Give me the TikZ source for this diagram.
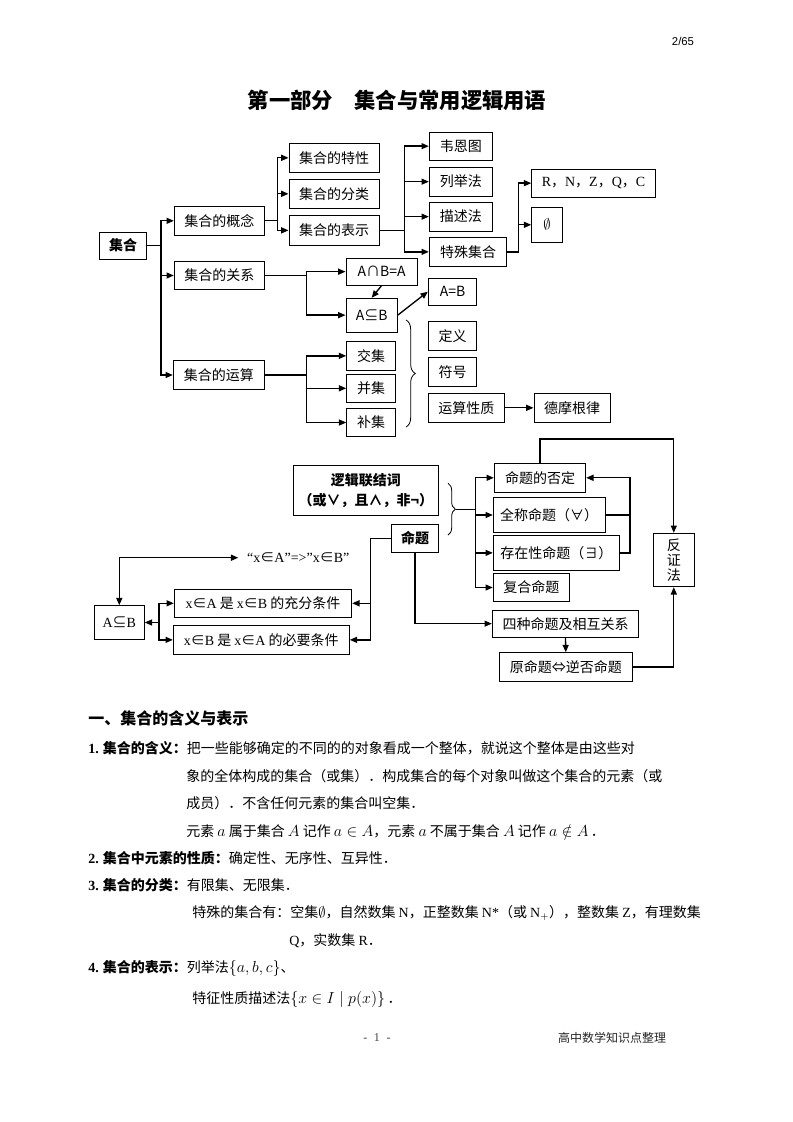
\documentclass[tikz,border=0pt]{standalone}
\usepackage{amssymb}
\usepackage{fontspec}
\setmainfont{Noto Sans CJK SC}
\newfontfamily\lat{Liberation Serif}
\newfontfamily\las{Liberation Sans}
\usetikzlibrary{arrows.meta,decorations.pathreplacing}
\tikzset{
  bx/.style={draw, line width=0.7pt, inner sep=0pt, align=center},
  ln/.style={line width=1pt},
  arr/.style={line width=1pt, -{Triangle[length=5.5pt,width=4.5pt]}},
  darr/.style={line width=1pt, {Triangle[length=5.5pt,width=4.5pt]}-{Triangle[length=5.5pt,width=4.5pt]}},
  brc/.style={decorate, line width=0.6pt},
  txt/.style={anchor=base west, inner sep=0pt}
}
\newcommand\Bx[6]{\node[bx, minimum width={(#4-#2)*0.75pt}, minimum height={(#5-#3)*0.75pt}] (#1) at ({(#2+#4)/2},{(#3+#5)/2}) {#6};}
\newcommand\TL[4]{\node[txt] (#1) at (#2,#3) {#4};}
\newcommand\MM[1]{{\fontsize{12}{14}\selectfont$#1$}}
\begin{document}
\begin{tikzpicture}[x=0.75pt,y=-0.75pt,font=\fontsize{10.5}{12.6}\selectfont]
\useasboundingbox (0,0) rectangle (793,1122);
\fill[white] (0,0) rectangle (793,1122);

% header and title
\node[inner sep=0pt] (hdr) at (683,41) {\las\fontsize{8.5}{10}\selectfont 2/65};
\node[anchor=base, inner sep=0pt] (title) at (397,108) {\fontsize{16}{18}\selectfont\bfseries 第一部分　集合与常用逻辑用语};

% ---------- top diagram ----------
\Bx{set}{99.5}{232}{146.5}{259}{\bfseries 集合}
\Bx{c1}{174.3}{206.3}{264.3}{235.3}{集合的概念}
\Bx{c2}{174.3}{261.7}{264.3}{289.3}{集合的关系}
\Bx{c3}{173.3}{360.7}{264.3}{389.3}{集合的运算}
\Bx{d1}{289}{143.3}{379.3}{172.3}{集合的特性}
\Bx{d2}{289}{179.3}{379.3}{208.3}{集合的分类}
\Bx{d3}{289}{215.7}{379.3}{245}{集合的表示}
\Bx{e1}{429.3}{132.3}{492.3}{160}{韦恩图}
\Bx{e2}{429.3}{167.3}{492.3}{196}{列举法}
\Bx{e3}{429.3}{202.3}{492.3}{231}{描述法}
\Bx{e4}{429.3}{237.7}{506.7}{266}{特殊集合}
\Bx{f1}{531.7}{169.3}{655.3}{197}{{\lat R}，{\lat N}，{\lat Z}，{\lat Q}，{\lat C}}
\Bx{f2}{531.7}{207.3}{562.3}{242.3}{$\emptyset$}
\Bx{g1}{346}{258.3}{417.3}{285}{A∩B=A}
\Bx{g2}{346}{298.3}{397.3}{332}{A⊆B}
\Bx{h}{428.3}{278.3}{476.7}{305}{A=B}
\Bx{j1}{346.7}{341.7}{395.7}{370}{交集}
\Bx{j2}{346.7}{374.3}{395.7}{402.3}{并集}
\Bx{j3}{346.7}{408.3}{395.7}{436.7}{补集}
\Bx{k1}{428.3}{321.7}{476.7}{350}{定义}
\Bx{k2}{428.3}{357.3}{476.7}{386}{符号}
\Bx{k3}{428.3}{393.3}{504.3}{422.3}{运算性质}
\Bx{k4}{534}{393.3}{610}{422.3}{德摩根律}

\foreach \t in {c1,c2,c3} \draw[arr] (set.east) -- ++(14,0) |- (\t.west);
\foreach \t in {d1,d2,d3} \draw[arr] (c1.east) -- ++(12.4,0) |- (\t.west);
\foreach \t in {e1,e2,e3,e4} \draw[arr] (d3.east) -- ++(24.7,0) |- (\t.west);
\foreach \t in {f1,f2} \draw[arr] (e4.east) -- ++(11.6,0) |- (\t.west);
\foreach \t in {g1,g2} \draw[arr] (c2.east) -- ++(41.4,0) |- (\t.west);
\foreach \t in {j1,j2,j3} \draw[arr] (c3.east) -- ++(41.4,0) |- (\t.west);
\draw[arr] (g1.south) -- (g2.north);
\draw[arr] (g2.east) -- (h.west);
\draw[arr] (k3.east) -- (k4.west);
\coordinate (b1a) at (406,320);
\coordinate (b1b) at (406,427);
\draw[brc, decoration={brace, amplitude=7pt}] (b1a) -- (b1b);

% ---------- lower diagram ----------
\node[bx, minimum width={145*0.75pt}, minimum height={50.3*0.75pt}, font={\fontsize{10.5}{15}\selectfont\bfseries}] (L) at (365.8,490.8) {逻辑联结词\\（或∨，且∧，非¬）};
\Bx{P}{391.7}{524.3}{438.3}{552.3}{\bfseries 命题}
\Bx{m1}{494.3}{463.3}{585.7}{492.3}{命题的否定}
\Bx{m2}{493.3}{497.7}{605}{532.3}{全称命题（∀）}
\Bx{m3}{493.3}{535.7}{619.3}{570}{存在性命题（∃）}
\Bx{m4}{493.3}{573.3}{569.3}{601.7}{复合命题}
\Bx{n}{492.3}{610}{638.7}{637.3}{四种命题及相互关系}
\Bx{o}{499.3}{652.7}{632.3}{681}{原命题⇔逆否命题}
\node[bx, minimum width={41*0.75pt}, minimum height={53.4*0.75pt}, font={\fontsize{10.5}{11.3}\selectfont}] (r) at (673.8,560) {反\\证\\法};
\Bx{q1}{174.3}{589.3}{351.7}{617.3}{{\lat x}∈{\lat A} 是 {\lat x}∈{\lat B} 的充分条件}
\Bx{q2}{173.3}{625.7}{349.3}{654}{{\lat x}∈{\lat B} 是 {\lat x}∈{\lat A} 的必要条件}
\Bx{s}{94.3}{605.7}{144.3}{639.3}{{\lat A}⊆{\lat B}}
\node[anchor=west, inner xsep=6.5pt, inner ysep=0pt] (t) at (238.3,557.7) {{\lat “x}∈{\lat A”=>”x}∈{\lat B”}};

\coordinate (b2a) at (448,483.3);
\coordinate (b2b) at (448,535);
\draw[brc, decoration={brace, amplitude=5.5pt}] (b2a) -- (b2b);
\coordinate (b2tip) at (455.5,509.2);
\coordinate (jm) at (475.5,509.2);
\draw[ln] (b2tip) -- (jm);
\foreach \t in {m1,m2,m3,m4} \draw[arr] (jm) |- (\t.west);

\coordinate (jx) at (630,477.8);
\draw[ln] (m3.east) -| (jx);
\draw[arr] (m2.east) -| (jx) -- (m1.east);
\draw[arr] (m1.north) -- ++(0,-24) -| (r.north);
\draw[arr] (o.east) -| (r.south);
\draw[arr] (n.south) -- (o.north);
\draw[arr] (P.south) |- (n.west);
\foreach \t in {q1,q2} \draw[arr] (P.west) -- ++(-20.7,0) |- (\t.east);
\coordinate (v) at (159,622.5);
\draw[arr] (v) -- (s.east);
\foreach \t in {q1,q2} \draw[arr] (v) |- (\t.west);
\draw[darr] (s.north) |- (t.west);

% ---------- text ----------
\TL{h1}{88}{724.5}{\fontsize{12}{14}\selectfont\bfseries 一、集合的含义与表示}
\TL{l1}{88}{753}{{\lat\bfseries 1.} {\bfseries 集合的含义：}把一些能够确定的不同的的对象看成一个整体，就说这个整体是由这些对}
\TL{l2}{186}{781}{象的全体构成的集合（或集）．构成集合的每个对象叫做这个集合的元素（或}
\TL{l3}{186}{808}{成员）．不含任何元素的集合叫空集．}
\TL{l4}{186}{836}{元素 \MM{a} 属于集合 \MM{A} 记作 \MM{a\in A}，元素 \MM{a} 不属于集合 \MM{A} 记作 \MM{a\notin A}\,．}
\TL{l5}{88}{863}{{\lat\bfseries 2.} {\bfseries 集合中元素的性质：}确定性、无序性、互异性．}
\TL{l6}{88}{890}{{\lat\bfseries 3.} {\bfseries 集合的分类：}有限集、无限集．}
\TL{l7}{192}{917}{特殊的集合有：空集$\emptyset$，自然数集 {\lat N}，正整数集 {\lat N*}（或 {\lat N}$_+$），整数集 {\lat Z}，有理数集}
\TL{l8}{289}{945}{{\lat Q}，实数集 {\lat R}．}
\TL{l9}{88}{972}{{\lat\bfseries 4.} {\bfseries 集合的表示：}列举法\MM{\{a,b,c\}}、}
\TL{l10}{192}{1003}{特征性质描述法\MM{\{x\in I\mid p(x)\}}\,．}

% footer
\node[inner sep=0pt, text=black!75] (pg) at (377,1038) {\lat\fontsize{9}{10}\selectfont -\hspace{5pt}1\hspace{5pt}-};
\node[inner sep=0pt, text=black!85] (ft) at (612,1038) {\fontsize{9}{10}\selectfont 高中数学知识点整理};
\end{tikzpicture}
\end{document}
